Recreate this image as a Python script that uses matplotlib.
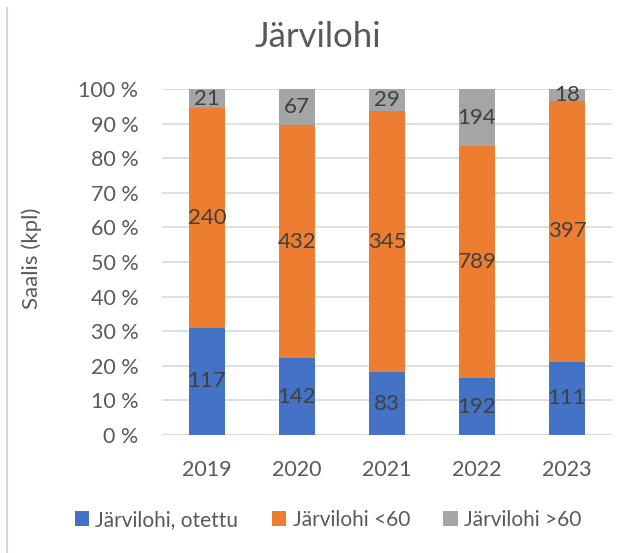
import matplotlib
matplotlib.use("Agg")
import matplotlib.pyplot as plt
from matplotlib.patches import Patch
from matplotlib.lines import Line2D
import numpy as np

plt.rcParams["font.family"] = ["Lato", "DejaVu Sans"]

years = ["2019", "2020", "2021", "2022", "2023"]
otettu = [117, 142, 83, 192, 111]
alle60 = [240, 432, 345, 789, 397]
yli60 = [21, 67, 29, 194, 18]

series = [
    ("Järvilohi, otettu", otettu, "#4472C4"),
    ("Järvilohi <60", alle60, "#ED7D31"),
    ("Järvilohi >60", yli60, "#A5A5A5"),
]

TICK = "#595959"
LABEL = "#404040"
GRID = "#D9D9D9"

fig = plt.figure(figsize=(6.35, 5.53), dpi=100)
ax = fig.add_axes([162 / 635, 1 - 435 / 553, 450 / 635, 346 / 553])

x = np.arange(len(years))
totals = np.array(otettu) + np.array(alle60) + np.array(yli60)
bottom = np.zeros(len(years))
for name, vals, color in series:
    share = np.array(vals) / totals * 100
    ax.bar(x, share, 0.4, bottom=bottom, color=color, zorder=2)
    for xi, b, s, v in zip(x, bottom, share, vals):
        ax.text(xi, b + s / 2, str(v), ha="center", va="center",
                fontsize=16, color=LABEL, zorder=3)
    bottom += share

ax.set_xlim(-0.5, len(years) - 0.5)
ax.set_ylim(0, 100)
ax.set_yticks(range(0, 101, 10))
ax.set_yticklabels([f"{v} %" for v in range(0, 101, 10)])
ax.set_xticks(x)
ax.set_xticklabels(years)
ax.tick_params(axis="both", length=0, labelsize=15.5, colors=TICK)
ax.tick_params(axis="y", pad=17)
ax.tick_params(axis="x", pad=18)
ax.grid(axis="y", color=GRID, linewidth=1.2, zorder=0)
for s in ax.spines.values():
    s.set_visible(False)
ax.axhline(0, color=GRID, linewidth=1.5, zorder=1)

fig.text(32 / 635, 1 - 258 / 553, "Saalis (kpl)", rotation=90, ha="center",
         va="center", fontsize=16, color=TICK)

fig.text(0.5, 1 - 37 / 553, "Järvilohi", ha="center", va="center",
         fontsize=25, color=TICK)

handles = [Patch(facecolor=c, edgecolor="none") for _, _, c in series]
fig.legend(handles, [n for n, _, _ in series], loc="center",
           bbox_to_anchor=(328 / 635, 1 - 520 / 553), ncol=3, frameon=False,
           fontsize=15, labelcolor=TICK, handlelength=0.7, handleheight=0.7,
           handletextpad=0.3, columnspacing=1.6)

fig.add_artist(Line2D([6.5 / 635, 6.5 / 635], [0, 1 - 8 / 553],
                      transform=fig.transFigure, color=GRID, linewidth=1.5))

fig.savefig("out.png", dpi=100)
